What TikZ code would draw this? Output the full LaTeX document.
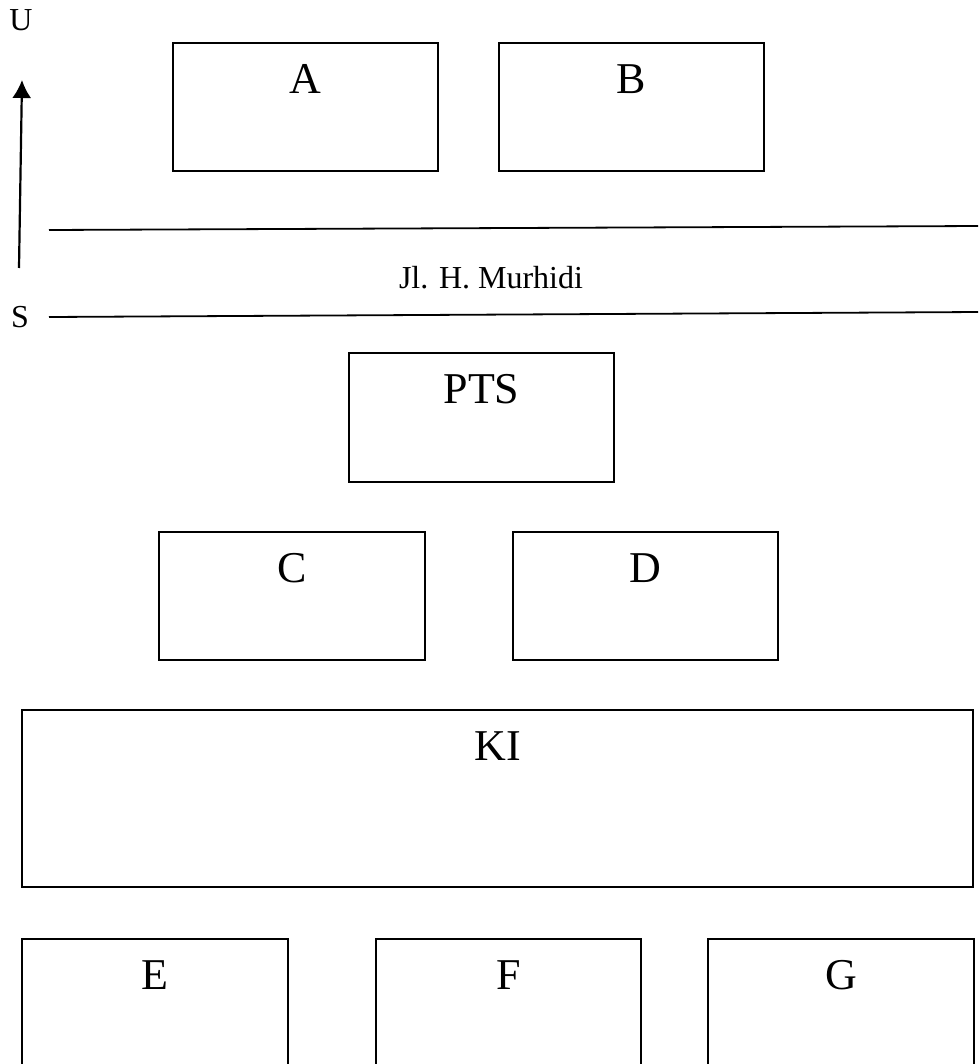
\documentclass[tikz,border=0pt]{standalone}
\usepackage{fontspec}
\setmainfont{Liberation Serif}
\usetikzlibrary{arrows.meta,positioning}

\tikzset{
  bldg/.style={draw, line width=1.8pt, minimum width=#1, inner sep=0pt},
  tag/.style={anchor=base, inner sep=0pt, font=\fontsize{44}{48}\selectfont},
  note/.style={anchor=base, inner sep=0pt, font=\fontsize{32}{36}\selectfont},
  road/.style={line width=1.8pt}
}

\begin{document}
\begin{tikzpicture}[x=1pt, y=-1pt]
    % page frame
    \useasboundingbox (0,0) rectangle (978,1064);
    \clip (0,0) rectangle (978,1064);
    % north arrow
    \node[note] (north) at (21,31) {U};
    \node[note] (south) at (20,327) {S};
    \coordinate (arrowfoot) at (19,268);
    \coordinate (arrowtip) at (22,80);
    \draw[line width=2.2pt, -{Latex[length=18pt,width=19pt]}] (arrowfoot) -- (arrowtip);
    % street
    \coordinate (roadNW) at (49,230);
    \coordinate (roadNE) at (980,226);
    \coordinate (roadSW) at (49,317);
    \coordinate (roadSE) at (980,312);
    \draw[road] (roadNW) -- (roadNE);
    \draw[road] (roadSW) -- (roadSE);
    \node[note] (street) at (491,288) {Jl. H. Murhidi};
    % buildings north of the street
    \node[bldg=265pt, minimum height=128pt] (A) at (305.5,107) {};
    \node[bldg=265pt, minimum height=128pt] (B) at (631.5,107) {};
    % buildings south of the street
    \node[bldg=265pt, minimum height=129pt] (PTS) at (481.5,417.5) {};
    \node[bldg=266pt, minimum height=128pt] (C) at (292,596) {};
    \node[bldg=265pt, minimum height=128pt] (D) at (645.5,596) {};
    \node[bldg=951pt, minimum height=177pt] (KI) at (497.5,798.5) {};
    \node[bldg=266pt, minimum height=150pt] (E) at (155,1014) {};
    \node[bldg=265pt, minimum height=150pt] (F) at (508.5,1014) {};
    \node[bldg=266pt, minimum height=150pt] (G) at (841,1014) {};
    % labels
    \foreach \b in {A,B,PTS,C,D,KI,E,F,G}
        \node[tag] (\b label) at ([yshift=-51pt]\b.north) {\b};
\end{tikzpicture}
\end{document}
